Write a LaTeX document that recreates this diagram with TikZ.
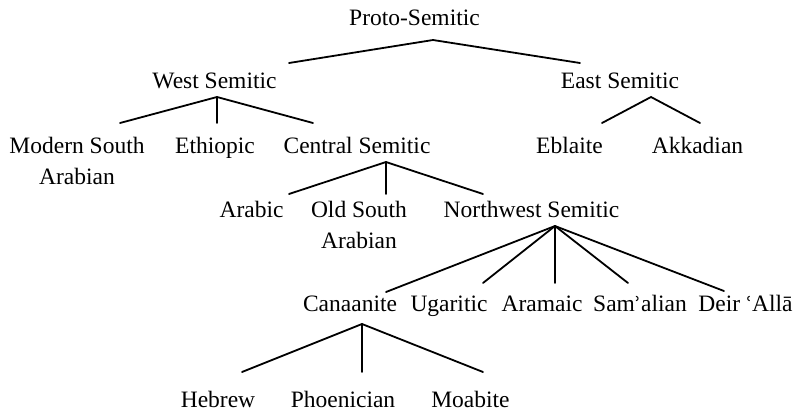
\documentclass[tikz,border=0pt]{standalone}
\usepackage{fontspec}
\setmainfont{Liberation Serif}
\newfontfamily\ringfont{DejaVu Serif}
\begin{document}
\begin{tikzpicture}[x=1pt,y=-1pt,
  lang/.style={anchor=base,inner sep=0pt,font=\fontsize{23.5}{31}\selectfont},
  branch/.style={line width=1.8pt,line cap=round,line join=miter}]
\useasboundingbox (0,0) rectangle (793,413);
\newcommand{\twol}[2]{\begin{tabular}[t]{@{}c@{}}#1\\#2\end{tabular}}
% nodes
\node[lang] (proto) at (414.5,25) {Proto-Semitic};
\node[lang] (west) at (214.5,88) {West Semitic};
\node[lang] (east) at (620,88) {East Semitic};
\node[lang] (msa) at (77,153) {\twol{Modern South}{Arabian}};
\node[lang] (eth) at (215,153) {Ethiopic};
\node[lang] (cen) at (357,153) {Central Semitic};
\node[lang] (ebl) at (569.5,153) {Eblaite};
\node[lang] (akk) at (697.5,153) {Akkadian};
\node[lang] (arb) at (251.5,217) {Arabic};
\node[lang] (osa) at (359,217) {\twol{Old South}{Arabian}};
\node[lang] (nws) at (531.5,217) {Northwest Semitic};
\node[lang] (can) at (350,311) {Canaanite};
\node[lang] (uga) at (449,311) {Ugaritic};
\node[lang] (ara) at (542,311) {Aramaic};
\node[lang] (sam) at (640,311) {Sam{\ringfont\fontsize{20}{24}\selectfont ʾ}alian};
\node[lang] (dei) at (745.5,311) {Deir {\ringfont\fontsize{20}{24}\selectfont ʿ}Allā};
\node[lang] (heb) at (218,407) {Hebrew};
\node[lang] (pho) at (343,407) {Phoenician};
\node[lang] (moa) at (470.5,407) {Moabite};
% branch points
\coordinate (protoA) at (433,40);
\coordinate (westT) at (289,63);
\coordinate (eastT) at (580,63);
\coordinate (westA) at (217,97);
\coordinate (msaT) at (120,123);
\coordinate (ethT) at (217,123);
\coordinate (cenT) at (313,123);
\coordinate (eastA) at (651,97);
\coordinate (eblT) at (602,123);
\coordinate (akkT) at (700,123);
\coordinate (cenA) at (386,162);
\coordinate (arbT) at (289,194);
\coordinate (osaT) at (386,194);
\coordinate (nwsT) at (483,194);
\coordinate (nwsA) at (555,226);
\coordinate (canT) at (386,292);
\coordinate (ugaT) at (483,283);
\coordinate (araT) at (555,283);
\coordinate (samT) at (628,283);
\coordinate (deiT) at (724,291);
\coordinate (canA) at (362,324);
\coordinate (hebT) at (242,372);
\coordinate (phoT) at (362,372);
\coordinate (moaT) at (483,372);
% connectors
\draw[branch] (westT) -- (protoA) -- (eastT);
\draw[branch] (msaT) -- (westA) -- (cenT);
\draw[branch] (westA) -- (ethT);
\draw[branch] (eblT) -- (eastA) -- (akkT);
\draw[branch] (arbT) -- (cenA) -- (nwsT);
\draw[branch] (cenA) -- (osaT);
\draw[branch] (canT) -- (nwsA) -- (deiT);
\draw[branch] (nwsA) -- (ugaT);
\draw[branch] (nwsA) -- (araT);
\draw[branch] (nwsA) -- (samT);
\draw[branch] (hebT) -- (canA) -- (moaT);
\draw[branch] (canA) -- (phoT);
\end{tikzpicture}
\end{document}
